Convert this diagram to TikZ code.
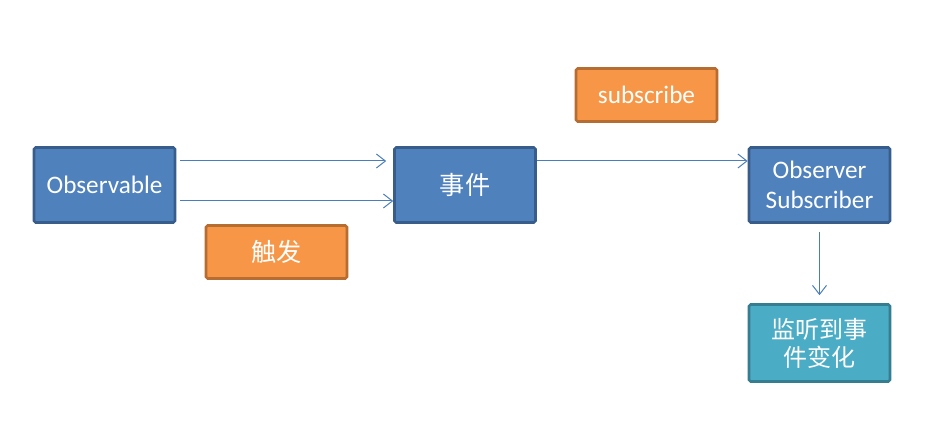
\documentclass[tikz,border=0pt]{standalone}
\usepackage{fontspec}
\setmainfont{Carlito}
\newfontfamily\cjk{Noto Sans CJK SC}
\usetikzlibrary{arrows.meta}
\definecolor{boxblue}{HTML}{4F81BD}
\definecolor{lineblue}{HTML}{385D8A}
\definecolor{boxorange}{HTML}{F79646}
\definecolor{lineorange}{HTML}{B66D31}
\definecolor{boxteal}{HTML}{4BACC6}
\definecolor{lineteal}{HTML}{357D91}
\definecolor{arrowblue}{HTML}{4A7EBB}
\tikzset{
	blk/.style={draw=lineblue, fill=boxblue, line width=1.3pt, rounded corners=0.8pt, text=white,
		minimum width=70.5pt, minimum height=37.5pt, font=\fontsize{12.6}{15}\selectfont, align=center},
	tag/.style={blk, draw=lineorange, fill=boxorange, minimum height=26.5pt},
	flow/.style={draw=arrowblue, line width=0.5pt, -{Straight Barb[length=4.5pt,width=7pt]}}
}
\begin{document}
\begin{tikzpicture}[x=0.5pt,y=-0.5pt]
	\useasboundingbox (0,0) rectangle (943,438);
	\node[blk] at (104.5,185) (obs) {Observable};
	\node[blk] at (465,185) (evt) {\cjk 事件};
	\node[blk] at (819.5,185) (sub) {Observer\\Subscriber};
	\node[tag] at (646.5,95) (subs) {subscribe};
	\node[tag] at (276.5,252) (trig) {\cjk 触发};
	\node[blk, draw=lineteal, fill=boxteal, minimum height=38.5pt, font=\fontsize{12}{14}\selectfont\cjk] at (819.5,343) (listen) {监听到事\\件变化};
	\path ([yshift=12pt]obs.east) edge[flow, shorten <=2pt, shorten >=3.5pt] ([yshift=12pt]evt.west)
	([yshift=-8pt]obs.east) edge[flow, shorten <=2pt] ([yshift=-8pt]evt.west)
	([yshift=12pt]evt.east) edge[flow] ([yshift=12pt]sub.west)
	(sub.south) edge[flow, shorten <=4pt, shorten >=4pt] (listen.north);
\end{tikzpicture}
\end{document}
